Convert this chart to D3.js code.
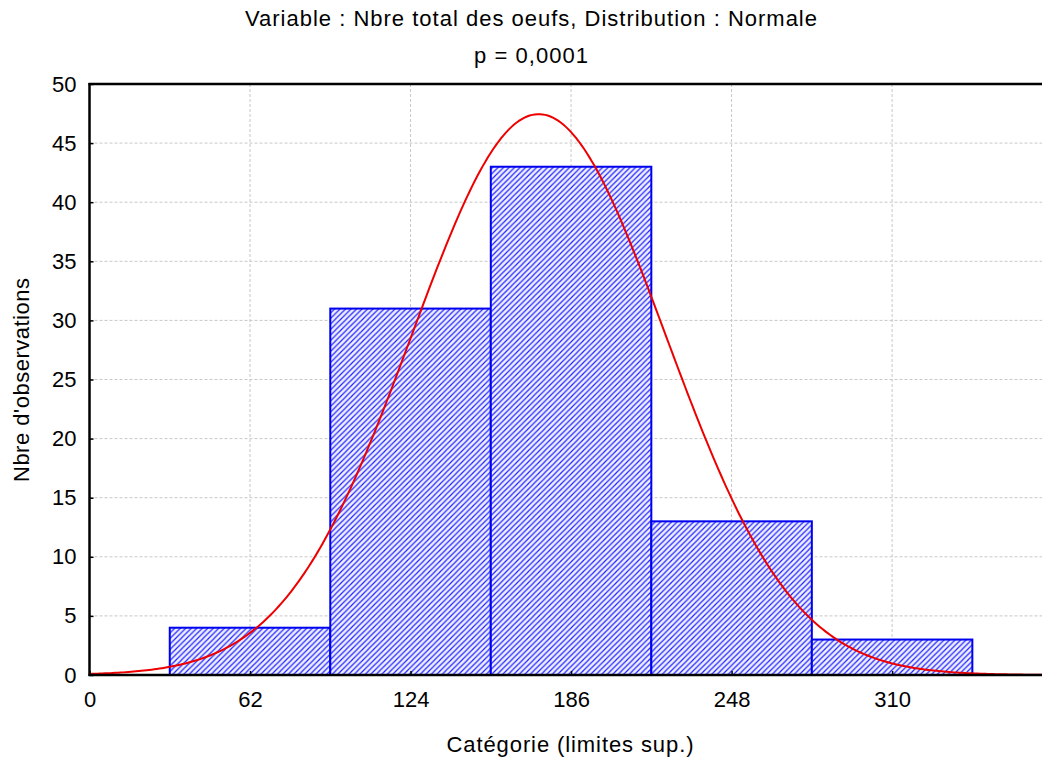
<!DOCTYPE html>
<html><head><meta charset="utf-8">
<script src="https://cdn.jsdelivr.net/npm/d3@7"></script>
<style>body{margin:0;background:#fff}svg{display:block}text{font-family:"Liberation Sans",Arial,sans-serif;fill:#000}</style>
</head><body><svg id="c" width="1042" height="759"></svg>
<script>
// Data
const binStarts = [31, 93, 155, 217, 279];
const binEnds   = [93, 155, 217, 279, 341];
const counts    = [4, 31, 43, 13, 3];
const xTicks = [0, 62, 124, 186, 248, 310];
const yTicks = [0, 5, 10, 15, 20, 25, 30, 35, 40, 45, 50];
const fitMean = 173.5;
const fitSd = 49;
const titleLines = ["Variable : Nbre total des oeufs, Distribution : Normale", "p = 0,0001"];
const xTitle = "Catégorie (limites sup.)";
const yTitle = "Nbre d'observations";

const svg = d3.select("#c");
const L = 89.5, R = 1042, T = 84, B = 675;
const x = d3.scaleLinear().domain([0, 367.9]).range([L, R]);
const y = d3.scaleLinear().domain([0, 50]).range([B, T]);

// pattern
const P = 5.5;
const defs = svg.append("defs");
const pat = defs.append("pattern").attr("id","hatch").attr("patternUnits","userSpaceOnUse")
  .attr("width",P).attr("height",P);
pat.append("rect").attr("width",P).attr("height",P).attr("fill","#eef0ff");
pat.append("path").attr("d",`M-1,${P+1} L${P+1},-1 M-1,1 L1,-1 M${P-1},${P+1} L${P+1},${P-1}`)
  .attr("stroke","#2222ff").attr("stroke-width",1.2);

// grid
const grid = svg.append("g").attr("stroke","#c8c8c8").attr("stroke-width",1).attr("stroke-dasharray","3,2");
grid.selectAll("line.v").data(xTicks.slice(1)).join("line")
  .attr("x1",d=>x(d)).attr("x2",d=>x(d)).attr("y1",T).attr("y2",B);
grid.selectAll("line.h").data(yTicks.slice(1,-1)).join("line")
  .attr("x1",L).attr("x2",R).attr("y1",d=>y(d)).attr("y2",d=>y(d));

// bars
svg.append("g").selectAll("rect").data(counts).join("rect")
  .attr("x",(d,i)=>x(binStarts[i])).attr("width",(d,i)=>x(binEnds[i])-x(binStarts[i]))
  .attr("y",d=>y(d)).attr("height",d=>y(0)-y(d))
  .attr("fill","url(#hatch)").attr("stroke","#0000f0").attr("stroke-width",2);

// normal fit curve
const n = d3.sum(counts), w = 62;
const xs = d3.range(0, 368.5, 1);
const fit = v => n*w/(fitSd*Math.sqrt(2*Math.PI))*Math.exp(-0.5*((v-fitMean)/fitSd)**2);
svg.append("path").datum(xs).attr("fill","none").attr("stroke","#ee0000").attr("stroke-width",2)
  .attr("d", d3.line().x(d=>x(d)).y(d=>y(fit(d))));

// axes
const xa = svg.append("g").attr("transform",`translate(0,${B})`)
  .call(d3.axisBottom(x).tickValues(xTicks).tickSize(0).tickPadding(16).tickFormat(d3.format("d")));
xa.select(".domain").remove();
xa.selectAll("text").attr("font-size",22).style("font-family","Liberation Sans, Arial, sans-serif");
xa.selectAll(".tick").append("line").attr("y1",0).attr("y2",-4).attr("stroke","#000").attr("stroke-width",1.5);

const ya = svg.append("g").attr("transform",`translate(${L},0)`)
  .call(d3.axisLeft(y).tickValues(yTicks).tickSize(0).tickPadding(13));
ya.select(".domain").remove();
ya.selectAll("text").attr("font-size",22).style("font-family","Liberation Sans, Arial, sans-serif");
ya.selectAll(".tick").append("line").attr("x1",0).attr("x2",4).attr("stroke","#000").attr("stroke-width",1.5);

// frame
svg.append("line").attr("x1",L).attr("x2",L).attr("y1",T-1).attr("y2",B+1).attr("stroke","#000").attr("stroke-width",2.5);
svg.append("line").attr("x1",L-1).attr("x2",R).attr("y1",B).attr("y2",B).attr("stroke","#000").attr("stroke-width",2.5);
svg.append("line").attr("x1",L-1).attr("x2",R).attr("y1",T).attr("y2",T).attr("stroke","#000").attr("stroke-width",2.5);

// titles
svg.append("text").attr("x",531).attr("y",26).attr("text-anchor","middle").attr("font-size",22)
  .attr("textLength",572).attr("lengthAdjust","spacing").text(titleLines[0]);
svg.append("text").attr("x",531).attr("y",63).attr("text-anchor","middle").attr("font-size",22)
  .attr("textLength",114).attr("lengthAdjust","spacing").text(titleLines[1]);
svg.append("text").attr("x",570).attr("y",752).attr("text-anchor","middle").attr("font-size",22)
  .attr("textLength",247).attr("lengthAdjust","spacing").text(xTitle);
svg.append("text").attr("transform","translate(29,380) rotate(-90)").attr("text-anchor","middle").attr("font-size",22)
  .attr("textLength",204).attr("lengthAdjust","spacing").text(yTitle);
</script></body></html>
